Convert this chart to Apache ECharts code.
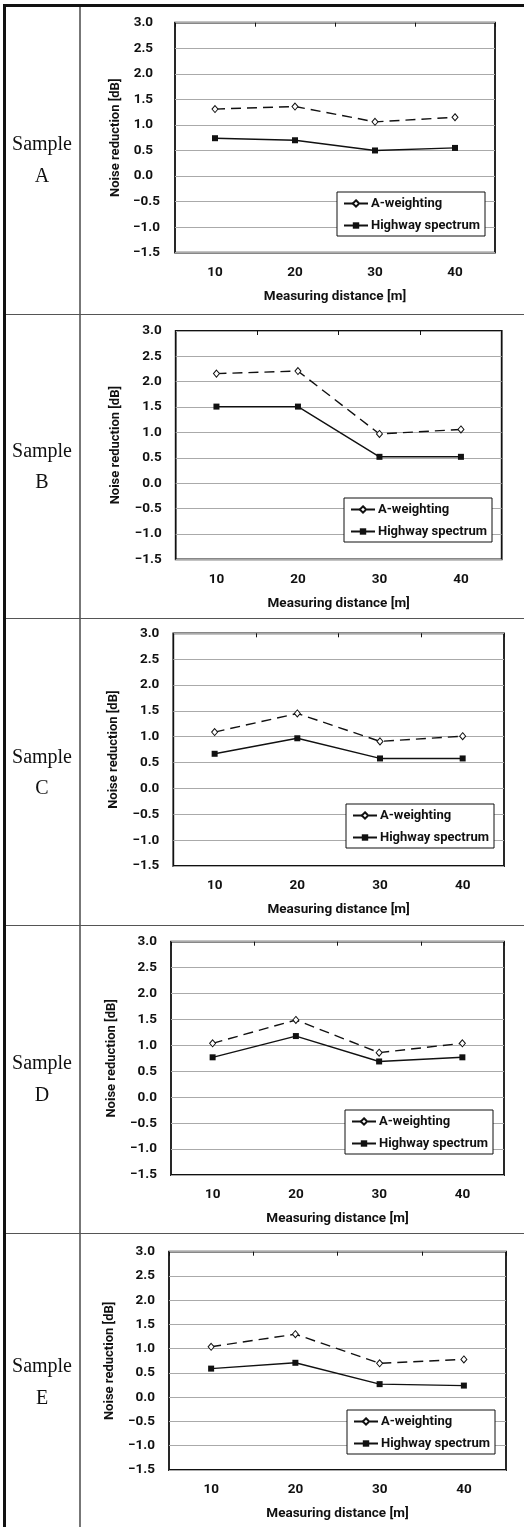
<!DOCTYPE html>
<html><head><meta charset="utf-8">
<script src="https://cdn.jsdelivr.net/npm/echarts@6/dist/echarts.min.js"></script>
<style>html,body{margin:0;padding:0;background:#fff}#c{width:524px;height:1527px}</style>
</head><body><div id="c"></div>
<script>
// ---- data ----
const categories = ['10', '20', '30', '40'];
const sampleLetters = ['A', 'B', 'C', 'D', 'E'];
const seriesNames = ['A-weighting', 'Highway spectrum'];
const aWeightingA = [1.31, 1.36, 1.06, 1.15];
const aWeightingB = [2.16, 2.21, 0.97, 1.06];
const aWeightingC = [1.09, 1.45, 0.91, 1.01];
const aWeightingD = [1.04, 1.49, 0.86, 1.04];
const aWeightingE = [1.04, 1.30, 0.70, 0.78];
const highwayA = [0.74, 0.70, 0.50, 0.55];
const highwayB = [1.51, 1.51, 0.52, 0.52];
const highwayC = [0.67, 0.97, 0.58, 0.58];
const highwayD = [0.77, 1.18, 0.69, 0.77];
const highwayE = [0.59, 0.71, 0.27, 0.24];
const yMin = -1.5, yMax = 3.0, yStep = 0.5;
const xAxisTitle = 'Measuring distance [m]';
const yAxisTitle = 'Noise reduction [dB]';

const aWeighting = [aWeightingA, aWeightingB, aWeightingC, aWeightingD, aWeightingE];
const highway = [highwayA, highwayB, highwayC, highwayD, highwayE];

// ---- layout ----
const layout = [
  {left: 175, right: 29, top: 22.7, height: 230, legRight: 39, legTop: 192, textY: [145, 177], pad: true},
  {left: 175.7, right: 22.3, top: 331, height: 228.3, legRight: 32, legTop: 498, textY: [452, 483], pad: false},
  {left: 173.3, right: 20, top: 633.3, height: 232.7, legRight: 30, legTop: 804, textY: [758, 789], pad: false},
  {left: 171, right: 20, top: 941.7, height: 233.3, legRight: 31, legTop: 1110, textY: [1064, 1096], pad: false},
  {left: 169, right: 18, top: 1251.7, height: 218.3, legRight: 29, legTop: 1410, textY: [1367, 1399], pad: false}
];
const rowLines = [314, 618, 925, 1233];
const FONT = 'Roboto, "DejaVu Sans", sans-serif';
const FS = 13.5;

const grid = [], xAxis = [], yAxis = [], series = [], legend = [], graphic = [];

layout.forEach((L, i) => {
  grid.push({left: L.left, right: L.right, top: L.top, height: L.height, show: true,
    borderColor: '#111', borderWidth: 1.8, backgroundColor: 'transparent', outerBoundsMode: 'none'});
  xAxis.push({type: 'category', gridIndex: i, data: categories, position: 'bottom',
    boundaryGap: true,
    axisLine: {show: false}, axisTick: {show: false},
    axisLabel: {fontFamily: FONT, fontWeight: 'bold', fontSize: FS, color: '#111', margin: 13},
    name: xAxisTitle, nameLocation: 'middle', nameGap: 37,
    nameTextStyle: {fontFamily: FONT, fontWeight: 'bold', fontSize: FS, color: '#111'}});
  xAxis.push({type: 'category', gridIndex: i, data: categories, position: 'top',
    boundaryGap: true,
    axisLine: {show: false}, axisTick: {show: true, inside: true, length: 4, lineStyle: {color: '#111', width: 1}},
    axisLabel: {show: false}, splitLine: {show: false}});
  const pad = L.pad;
  yAxis.push({type: 'value', gridIndex: i, min: yMin, max: yMax, interval: yStep,
    axisLine: {show: false}, axisTick: {show: false},
    splitLine: {show: true, lineStyle: {color: '#aaaaaa', width: 1}},
    axisLabel: {fontFamily: FONT, fontWeight: 'bold', fontSize: FS, color: '#111', margin: pad ? 15 : 14,
      formatter: v => v < 0 ? '\u2212' + Math.abs(v).toFixed(1) : v.toFixed(1) + (pad ? '\u2002' : '')},
    name: yAxisTitle, nameLocation: 'middle', nameGap: 53,
    nameTextStyle: {fontFamily: FONT, fontWeight: 'bold', fontSize: FS - 0.5, color: '#111'}});
  series.push({name: seriesNames[0], type: 'line', xAxisIndex: 2 * i, yAxisIndex: i,
    data: aWeighting[i], symbol: 'diamond', symbolSize: [6, 7], showSymbol: true,
    lineStyle: {color: '#111', width: 1.4, type: [10, 6]},
    itemStyle: {color: '#fff', borderColor: '#111', borderWidth: 1}, z: 3});
  series.push({name: seriesNames[1], type: 'line', xAxisIndex: 2 * i, yAxisIndex: i,
    data: highway[i], symbol: 'rect', symbolSize: 6, showSymbol: true,
    lineStyle: {color: '#111', width: 1.4},
    itemStyle: {color: '#111', borderColor: '#111', borderWidth: 0}, z: 3});
  legend.push({data: seriesNames, orient: 'vertical', right: L.legRight, top: L.legTop,
    padding: [5, 5, 4, 6], itemGap: 9, itemWidth: 24, itemHeight: 8,
    borderColor: '#111', borderWidth: 1, borderRadius: 0, backgroundColor: '#fff',
    textStyle: {fontFamily: FONT, fontWeight: 'bold', fontSize: FS - 0.5, color: '#111', padding: [0, 0, 0, -2]},
    selectedMode: false});
  graphic.push({type: 'text', x: 42, y: L.textY[0],
    style: {text: 'Sample', font: '20px "Liberation Serif", "DejaVu Serif", serif', fill: '#111', align: 'center', verticalAlign: 'middle'}});
  graphic.push({type: 'text', x: 42, y: L.textY[1],
    style: {text: sampleLetters[i], font: '20px "Liberation Serif", "DejaVu Serif", serif', fill: '#111', align: 'center', verticalAlign: 'middle'}});
});

// table lines
graphic.push({type: 'line', shape: {x1: 3, y1: 5.5, x2: 524, y2: 5.5}, style: {stroke: '#111', lineWidth: 3}});
graphic.push({type: 'line', shape: {x1: 4.5, y1: 4, x2: 4.5, y2: 1527}, style: {stroke: '#111', lineWidth: 3}});
graphic.push({type: 'line', shape: {x1: 80, y1: 7, x2: 80, y2: 1527}, style: {stroke: '#777', lineWidth: 2}});
rowLines.forEach(y => graphic.push({type: 'line', shape: {x1: 6, y1: y + 0.5, x2: 524, y2: y + 0.5}, style: {stroke: '#555', lineWidth: 1}}));

const chart = echarts.init(document.getElementById('c'), null, {renderer: 'canvas'});
chart.setOption({animation: false, backgroundColor: '#fff', grid, xAxis, yAxis, series, legend, graphic});
</script></body></html>
